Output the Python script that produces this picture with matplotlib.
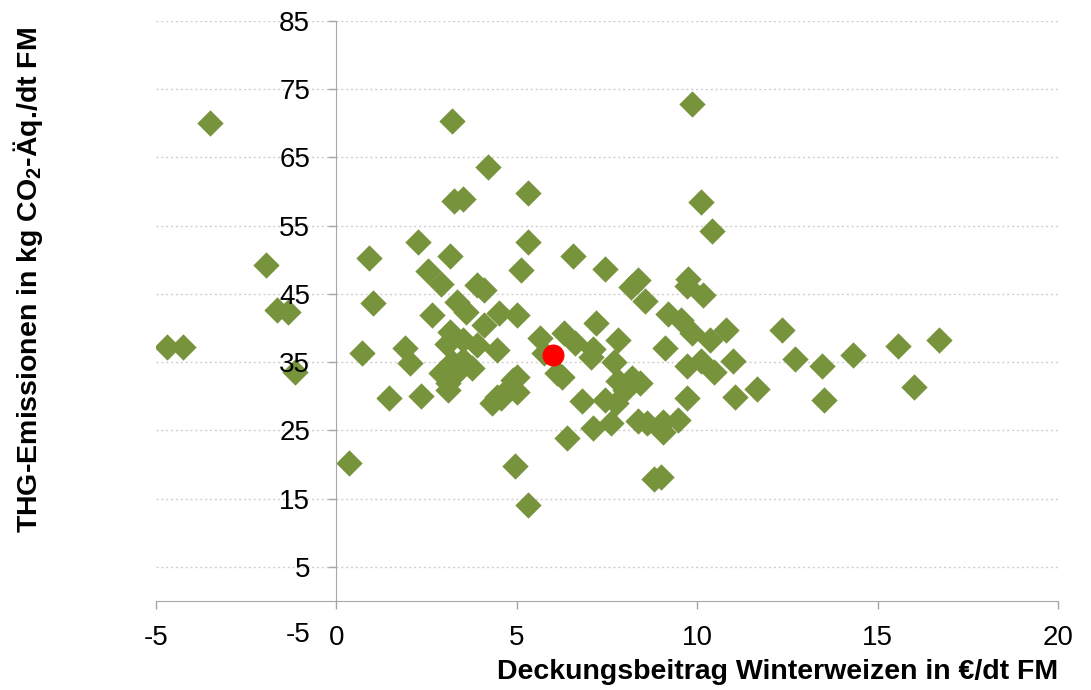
import matplotlib.pyplot as plt

plt.rcParams['font.family'] = ['Liberation Sans', 'DejaVu Sans']
plt.rcParams['mathtext.fontset'] = 'custom'
plt.rcParams['mathtext.rm'] = 'Liberation Sans:bold'
plt.rcParams['mathtext.bf'] = 'Liberation Sans:bold'

# Betriebe: Deckungsbeitrag (EUR/dt FM) und THG-Emissionen (kg CO2-Aeq./dt FM)
db = [-4.7, -4.25, -3.5, -1.95, -1.65, -1.35, -1.15,
      0.35, 0.7, 0.9, 1.0, 1.45, 1.9, 2.05, 2.25, 2.35,
      2.55, 2.65, 2.9, 3.15, 3.2, 3.25, 3.5, 4.2, 3.9, 4.1, 3.35, 3.6, 4.1, 4.5,
      5.0, 5.1, 5.3, 5.3, 3.15, 3.5, 3.9, 4.45, 3.05, 3.2, 3.5, 2.9, 3.1, 3.4,
      3.75, 5.0, 4.8, 4.45, 4.3, 3.1, 4.55, 5.0, 4.95, 5.3, 4.9, 5.65, 5.75, 6.1,
      6.55, 7.45, 8.15, 8.35, 8.55, 9.75, 9.7, 10.15, 9.85, 10.1, 10.4,
      7.2, 6.3, 6.6, 7.1, 7.05, 7.8, 7.7, 9.2, 9.55, 9.85, 10.35, 10.8,
      9.1, 9.7, 10.1, 10.45, 11.0, 6.25, 7.8, 8.2, 8.0, 8.4,
      6.8, 7.45, 7.75, 9.7, 6.4, 7.1, 7.6, 8.35, 8.6, 9.05, 9.05, 9.45,
      8.8, 9.0,
      11.05, 11.65, 12.35, 12.7, 13.45, 13.5, 14.3, 15.55, 16.0, 16.7]
thg = [37.2, 37.2, 70.0, 49.3, 42.6, 42.4, 33.6,
       20.2, 36.3, 50.3, 43.6, 29.7, 37.1, 34.8, 52.6, 30.0,
       48.4, 41.9, 46.5, 50.6, 70.3, 58.6, 58.9, 63.6, 46.3, 45.6, 43.8, 42.4, 40.4, 42.2,
       41.9, 48.5, 52.6, 59.8, 39.4, 38.3, 37.5, 36.8, 37.6, 35.0, 35.3, 33.4, 31.9, 33.8,
       34.2, 32.8, 31.3, 29.9, 29.0, 30.9, 29.7, 30.6, 19.7, 14.1, 32.4, 38.5, 36.3, 33.4,
       50.5, 48.7, 46.0, 47.0, 44.0, 47.2, 46.2, 44.9, 72.9, 58.5, 54.2,
       40.8, 39.2, 37.8, 36.9, 35.7, 38.2, 35.0, 42.0, 41.1, 39.3, 38.2, 39.7,
       37.0, 34.4, 35.2, 33.5, 35.2, 32.8, 32.2, 32.7, 30.9, 31.9,
       29.3, 29.4, 29.0, 29.8, 23.9, 25.4, 26.1, 26.3, 26.1, 26.2, 24.8, 26.5,
       17.9, 18.2,
       29.9, 31.0, 39.7, 35.5, 34.5, 29.4, 36.0, 37.3, 31.3, 38.3]

# Mittelwert
mittel_db = [6.0]
mittel_thg = [36.1]

x_ticks = [-5, 0, 5, 10, 15, 20]
y_ticks = [5, 15, 25, 35, 45, 55, 65, 75, 85]

fig = plt.figure(figsize=(10.91, 6.90), dpi=100)
ax = fig.add_axes([0.143, 0.0797, 0.827, 0.8899])
ax.set_axisbelow(False)

# Punkte unter den Achsenbeschriftungen zeichnen
ax.scatter(db, thg, marker='D', s=180, color='#77933C', linewidths=0, zorder=2)
ax.scatter(mittel_db, mittel_thg, marker='o', s=250, color='#FF0000', linewidths=0, zorder=2.2)

ax.set_xlim(-5, 20)
ax.set_ylim(-5, 85)
ax.set_xticks(x_ticks)
ax.set_yticks(y_ticks)
ax.set_xticklabels([str(t) for t in x_ticks])
ax.set_yticklabels([str(t) for t in y_ticks])

for t in y_ticks:
    ax.axhline(t, color='#CFCFCF', linewidth=1, linestyle=(0, (1.5, 2)), zorder=1)

# Achsen kreuzen sich im Nullpunkt
for side in ['top', 'right']:
    ax.spines[side].set_visible(False)
ax.spines['left'].set_position(('data', 0))
ax.spines['left'].set_bounds(0, 85)
ax.spines['bottom'].set_position(('data', 0))
ax.spines['left'].set_color('#A6A6A6')
ax.spines['bottom'].set_color('#A6A6A6')
ax.tick_params(axis='both', colors='#A6A6A6', labelcolor='black', labelsize=20,
               direction='out', length=6, width=1)
ax.tick_params(axis='y', pad=13)
ax.tick_params(axis='x', pad=11)

# unterster Wert der y-Achse
ax.annotate('-5', xy=(0, -5), xycoords='data', xytext=(-26, 0),
            textcoords='offset pixels', ha='right', va='center', fontsize=20)

fig.text(1058 / 1091, 1 - 672 / 690, 'Deckungsbeitrag Winterweizen in €/dt FM',
         ha='right', va='center', fontsize=20.5, fontweight='bold')
fig.text(28 / 1091, 1 - 280 / 690, r'THG-Emissionen in kg $\mathbf{CO_2}$-Äq./dt FM',
         rotation=90, ha='center', va='center', fontsize=20.5, fontweight='bold')

fig.savefig('out.png', dpi=100, facecolor='white')
